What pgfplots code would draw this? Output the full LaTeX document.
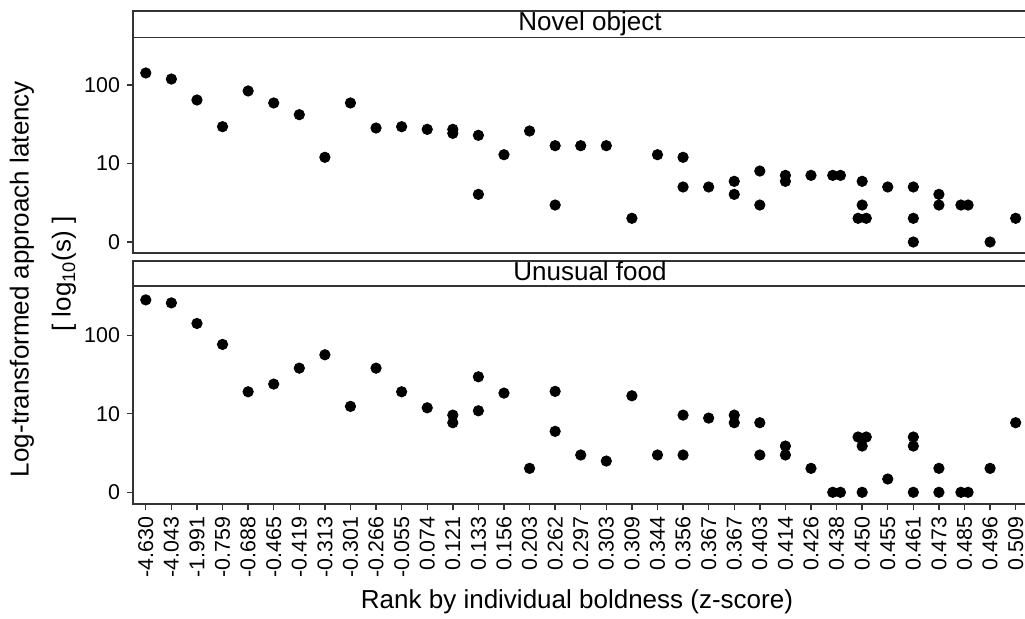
\documentclass[border=0pt]{standalone}
\usepackage{fontspec}
\setmainfont{Liberation Sans}
\usepackage{pgfplots}
\usepackage{pgfplotstable}
\pgfplotsset{compat=1.18}

% x = rank position (0..34), y = log units (0 -> 0, 1 -> 10, 2 -> 100)
\pgfplotstableread{
x y
0 2.153
1 2.076
2 1.809
3 1.469
4 1.924
5 1.771
6 1.622
7 1.079
8 1.771
9 1.452
10 1.469
11 1.435
12 1.435
12 1.384
13 1.359
13 0.607
14 1.112
15 1.414
16 1.227
16 0.471
17 1.227
18 1.227
19 0.302
20 1.112
21 1.079
21 0.701
22 0.701
23 0.773
23 0.607
24 0.904
24 0.471
25 0.849
25 0.773
26 0.849
26.85 0.849
27.15 0.849
28 0.773
28 0.471
27.84 0.302
28.16 0.302
29 0.701
30 0.701
30 0.302
30 0
31 0.607
31 0.471
31.86 0.471
32.14 0.471
33 0
34 0.302
}\novel

\pgfplotstableread{
x y
0 2.450
1 2.412
2 2.150
3 1.883
4 1.280
5 1.378
6 1.581
7 1.751
8 1.094
9 1.581
10 1.280
11 1.076
12 0.983
12 0.886
13 1.471
13 1.038
14 1.263
15 0.305
16 1.285
16 0.776
17 0.475
18 0.398
19 1.229
20 0.475
21 0.983
21 0.475
22 0.945
23 0.983
23 0.886
24 0.886
24 0.475
25 0.589
25 0.475
26 0.305
26.85 0
27.15 0
27.84 0.704
28.16 0.704
28 0.589
28 0
29 0.169
30 0.704
30 0.589
30 0
31 0.305
31 0
31.86 0
32.14 0
33 0.305
34 0.886
}\food

\pgfplotsset{
  panel/.style={
    scale only axis,
    width=448.5pt,
    xmin=-0.5, xmax=34.56,
    axis line style={black!80, line width=0.8pt},
    ytick={0,1,2}, yticklabels={0,10,100},
    ytick pos=left,
    tick align=outside,
    major tick length=3pt,
    tick style={black!80, line width=0.7pt},
    tick label style={font=\fontsize{10.7}{12}\selectfont},
    mark size=2.6pt,
  },
}

\begin{document}
\begin{tikzpicture}
\begin{axis}[panel, name=top,
  at={(66.5pt,182.5pt)}, anchor=south west,
  height=107.75pt, ymin=-0.14, ymax=2.605,
  xtick=\empty]
\addplot[only marks, mark=*, black] table[x=x, y=y] {\novel};
\end{axis}

\begin{axis}[panel, name=bot,
  at={(66.5pt,57pt)}, anchor=south west,
  height=109pt, ymin=-0.149, ymax=2.627,
  xtick={0,...,34},
  xticklabels={-4.630,-4.043,-1.991,-0.759,-0.688,-0.465,-0.419,-0.313,-0.301,-0.266,-0.055,0.074,0.121,0.133,0.156,0.203,0.262,0.297,0.303,0.309,0.344,0.356,0.367,0.367,0.403,0.414,0.426,0.438,0.450,0.455,0.461,0.473,0.485,0.496,0.509},
  xtick pos=left,
  xticklabel style={rotate=90, anchor=east}]
\addplot[only marks, mark=*, black] table[x=x, y=y] {\food};
\end{axis}

% facet strips
\draw[black!80, line width=0.8pt] (top.north west) rectangle ([yshift=13.25pt]top.north east);
\draw[black!80, line width=0.8pt] (bot.north west) rectangle ([yshift=12.5pt]bot.north east);
\node[anchor=base, font=\fontsize{13}{15}\selectfont] at (295pt,293.65pt) {Novel object};
\node[anchor=base, font=\fontsize{13}{15}\selectfont] at (295pt,168.65pt) {Unusual food};

% axis titles
\node[rotate=90, font=\fontsize{13}{15}\selectfont] at (11pt,169.5pt) {Log-transformed approach latency};
\node[rotate=90, font=\fontsize{13}{15}\selectfont] at (32pt,172pt) {[ log\textsubscript{10}(s) ]};
\node[anchor=base, font=\fontsize{13}{15}\selectfont] at (288.5pt,5pt) {Rank by individual boldness (z-score)};

\pgfresetboundingbox
\path[use as bounding box] (0,0) rectangle (512.5pt,309pt);
\end{tikzpicture}
\end{document}
